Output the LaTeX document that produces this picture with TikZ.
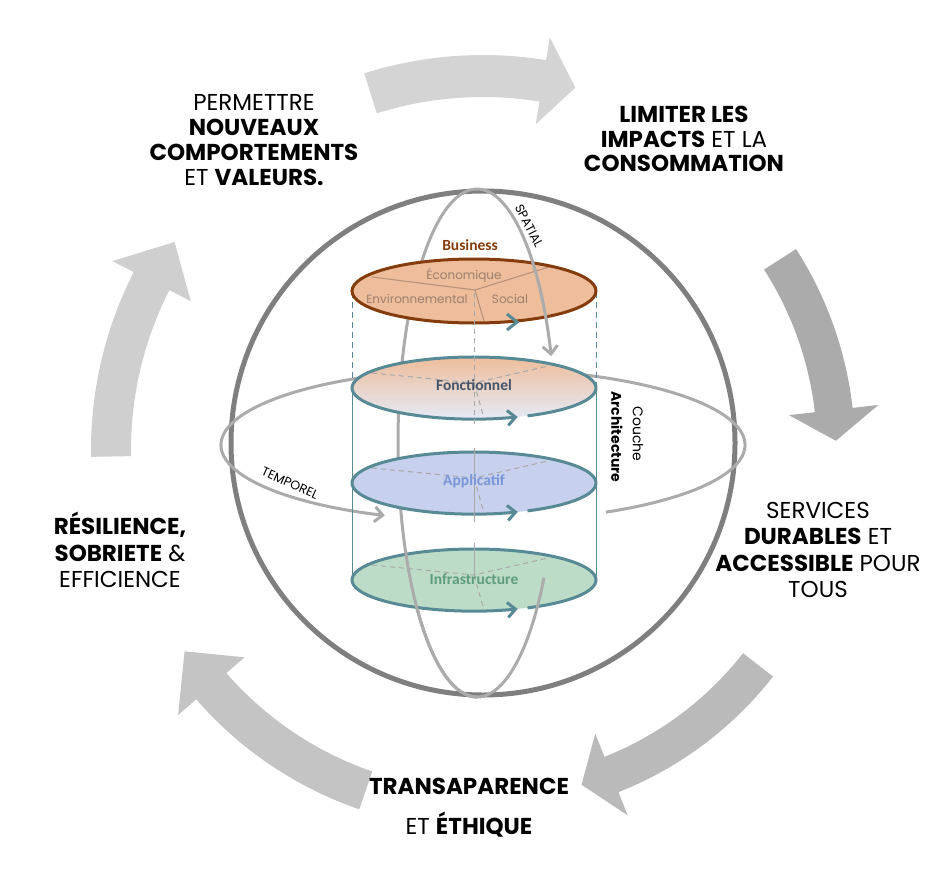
\documentclass[tikz,border=0pt]{standalone}
\usepackage{fontspec}
\setmainfont{Poppins}
\newfontfamily\calibri{Carlito}
\usetikzlibrary{calc,arrows.meta}

\definecolor{ringgray}{HTML}{7F7F7F}
\definecolor{orbitgray}{HTML}{ABABAB}
\definecolor{layerteal}{HTML}{578A95}
\definecolor{busfill}{HTML}{EEBD9B}
\definecolor{busline}{HTML}{843C0C}
\definecolor{busgrid}{HTML}{B58E78}
\definecolor{bustext}{HTML}{9E7E6C}
\definecolor{fncblue}{HTML}{C5D2EE}
\definecolor{fncpale}{HTML}{E4EAF6}
\definecolor{fnctext}{HTML}{44546A}
\definecolor{appfill}{HTML}{C7D0EC}
\definecolor{apptext}{HTML}{7896D8}
\definecolor{infrafill}{HTML}{BDDCC8}
\definecolor{infratext}{HTML}{5F9C7E}
\definecolor{gridgray}{HTML}{A8A8A8}

\tikzset{
  goaltext/.style={align=center, text=black, font=\fontsize{23}{26.5}\selectfont},
  subtext/.style={text=bustext, font=\fontsize{12}{14}\selectfont},
  layerlabel/.style={font=\calibri\bfseries\fontsize{15.5}{17}\selectfont},
  orbitlabel/.style={font=\fontsize{12.5}{14}\selectfont},
  orbit/.style={draw=orbitgray, line width=3},
  orbitarrow/.style={orbit, -{Straight Barb[length=8pt,width=15pt]}},
  ringarrow/.style={draw=layerteal, line width=3, -{Straight Barb[length=8pt,width=15pt]}},
  layergrid/.style={draw=gridgray, line width=1, dash pattern=on 5pt off 4pt},
  cylside/.style={draw=layerteal, line width=1}
}

% big curved arrow: colour, radius, half width, start, shaft end, head half width, tip angle
\newcommand{\cyclearrow}[7]{%
  \pgfmathsetmacro{\arrout}{#2+#3}\pgfmathsetmacro{\arrin}{#2-#3}%
  \pgfmathsetmacro{\headout}{#2+#6}\pgfmathsetmacro{\headin}{#2-#6}%
  \fill[#1] ($(ctr)+(#4:\arrout)$) arc[start angle=#4, end angle=#5, radius=\arrout]
    -- ($(ctr)+(#5:\headout)$) -- ($(ctr)+(#7:#2)$) -- ($(ctr)+(#5:\headin)$)
    -- ($(ctr)+(#5:\arrin)$) arc[start angle=#5, end angle=#4, radius=\arrin] -- cycle;
}

% layer disc with open ring arrow: centre y, y radius
\newcommand{\layerring}[2]{%
  \draw[ringarrow] ({474+122*cos(64)},{#1+#2*sin(64)})
    arc[start angle=64, end angle=-291, x radius=122, y radius=#2];
}

% dashed Y inside a disc: centre y
\newcommand{\layergrid}[1]{%
  \draw[layergrid] (372,#1-15) -- (474,#1-5) -- (548,#1-22);
  \draw[layergrid] (474,#1-5) -- (484,#1+30);
}

\begin{document}
\begin{tikzpicture}[x=1pt,y=-1pt]
\useasboundingbox (0,0) rectangle (952,880);
\coordinate (ctr) at (483,450);

% cycle arrows
\cyclearrow{black!17}{374}{21}{-107.5}{-80.8}{44}{-75.7}
\cyclearrow{black!33}{353}{19}{-32.7}{-6.5}{45}{-1.5}
\cyclearrow{black!27}{349}{19}{38}{68.4}{44}{73.6}
\cyclearrow{black!23}{360}{20}{109}{139}{44}{146}
\cyclearrow{black!19}{372}{20}{179}{207}{44}{214}

% goals
\node[goaltext, font=\fontsize{23}{25}\selectfont] (permettre) at (254,140) {PERMETTRE\\\textbf{NOUVEAUX}\\\textbf{COMPORTEMENTS}\\ET \textbf{VALEURS.}};
\node[goaltext, font=\fontsize{23}{24.5}\selectfont] (limiter) at (684,139) {\textbf{LIMITER LES}\\\textbf{IMPACTS} ET LA\\\textbf{CONSOMMATION}};
\node[goaltext] (services) at (818,550) {SERVICES\\\textbf{DURABLES} ET\\\textbf{ACCESSIBLE} POUR\\TOUS};
\node[goaltext, font=\fontsize{23}{39.7}\selectfont] (transparence) at (469,808) {\textbf{TRANSAPARENCE}\\ET \textbf{ÉTHIQUE}};
\node[goaltext] (resilience) at (120,550) {\textbf{RÉSILIENCE,}\\\textbf{SOBRIETE} \&\\EFFICIENCE};

% sphere
\draw[ringgray, line width=5] (483,443) circle[radius=252];

% orbits behind the layers
\draw[orbit] (477,189) arc[start angle=270, end angle=90, x radius=79, y radius=254];
\draw[orbitarrow] ({483+262*cos(250)},{445+76*sin(250)})
  arc[start angle=250, end angle=112, x radius=262, y radius=76];
\draw[orbit] ({483+262*cos(62)},{445+76*sin(62)})
  arc[start angle=62, end angle=-70, x radius=262, y radius=76];

% cylinder
\draw[cylside, dash pattern=on 6pt off 4pt] (352,292) -- (352,388) (596,292) -- (596,388);
\draw[cylside] (352,388) -- (352,580) (596,388) -- (596,580);

% business
\fill[busfill] (474,291) ellipse[x radius=122, y radius=32];
\draw[busgrid, line width=1] (372,277) -- (475,290) -- (552,266) (475,290) -- (484,321);
\draw[busline, line width=3] (474,291) ellipse[x radius=122, y radius=32];
\draw[layerteal, line width=3] (507,314) -- (517,322) -- (507,330);

% fonctionnel
\shade[top color=busfill, middle color=fncblue, bottom color=fncpale] (474,388) ellipse[x radius=122, y radius=31];
\layergrid{388}
\layerring{388}{31}

% applicatif
\fill[appfill] (474,483) ellipse[x radius=122, y radius=31];
\layergrid{483}
\layerring{483}{31}

% infrastructure
\fill[infrafill] (474,580) ellipse[x radius=122, y radius=31];
\layergrid{580}
\layerring{580}{31}

% axis
\draw[layergrid] (474,293) -- (474,428);
\draw[gridgray, line width=1] (474,448) -- (474,522) (474,543) -- (474,576);

% labels
\node[layerlabel, text=busline] (business) at (470,245) {Business};
\node[subtext] (eco) at (464,275) {Économique};
\node[subtext] (env) at (417,299) {Environnemental};
\node[subtext] (social) at (510,299) {Social};
\node[layerlabel, text=fnctext] (fonct) at (474,385) {Fonctionnel};
\node[layerlabel, text=apptext] (appli) at (474,481) {Applicatif};
\node[layerlabel, text=infratext] (infra) at (474,579) {Infrastructure};
\node[rotate=-90, font=\fontsize{14}{16}\selectfont] (couche) at (638,434) {Couche};
\node[rotate=-90, font=\bfseries\fontsize{14}{16}\selectfont] (archi) at (617,437) {Architecture};
\node[rotate=-63, orbitlabel] (spatial) at (529,226) {SPATIAL};
\node[rotate=-24, orbitlabel] (temporel) at (290,483) {TEMPOREL};

% orbits in front
\draw[orbit] ({477+79*cos(155)},{443+254*sin(155)})
  arc[start angle=155, end angle=32, x radius=79, y radius=254];
\draw[orbitarrow] (477,189) arc[start angle=270, end angle=340, x radius=79, y radius=254];
\end{tikzpicture}
\end{document}
